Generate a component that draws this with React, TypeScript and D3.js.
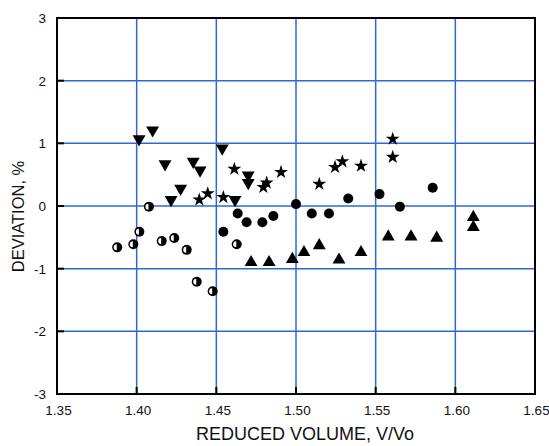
import React from "react";
import * as d3 from "d3";

const xTicks = [1.35, 1.40, 1.45, 1.50, 1.55, 1.60, 1.65];
const yTicks = [-3, -2, -1, 0, 1, 2, 3];

const invTriX = [1.4015, 1.410, 1.4178, 1.4355, 1.4398, 1.4276, 1.4216, 1.4537, 1.4617, 1.470, 1.470];
const invTriY = [1.07, 1.21, 0.67, 0.71, 0.57, 0.28, 0.10, 0.92, 0.10, 0.49, 0.37];

const starX = [1.4393, 1.4446, 1.4544, 1.4613, 1.4816, 1.4795, 1.4906, 1.5146, 1.5245, 1.5291, 1.5408, 1.5607, 1.5607];
const starY = [0.10, 0.20, 0.14, 0.59, 0.37, 0.30, 0.54, 0.35, 0.62, 0.71, 0.64, 1.07, 0.78];

const dotX = [1.4634, 1.4544, 1.469, 1.4789, 1.4858, 1.50, 1.5099, 1.5207, 1.5328, 1.5524, 1.5652, 1.5858];
const dotY = [-0.12, -0.41, -0.26, -0.26, -0.16, 0.03, -0.12, -0.12, 0.12, 0.19, -0.01, 0.29];

const halfX = [1.4077, 1.4017, 1.3979, 1.3878, 1.4157, 1.4236, 1.4314, 1.4377, 1.4477, 1.4628];
const halfY = [-0.01, -0.41, -0.61, -0.66, -0.56, -0.51, -0.70, -1.21, -1.36, -0.61];

const triX = [1.4718, 1.4831, 1.4977, 1.505, 1.5146, 1.527, 1.5408, 1.5579, 1.5722, 1.5883, 1.6113, 1.6113];
const triY = [-0.90, -0.90, -0.85, -0.74, -0.63, -0.86, -0.74, -0.49, -0.49, -0.51, -0.18, -0.34];

const W = 549, H = 446;
const L = 57, R = 535, T = 18, B = 394;

export default function App() {
  const x = d3.scaleLinear().domain([1.35, 1.65]).range([L, R]);
  const y = d3.scaleLinear().domain([-3, 3]).range([B, T]);
  const font = "Arial, 'Liberation Sans', sans-serif";
  const grid = "#2f68cf";

  const triPath = d3.symbol().type(d3.symbolTriangle).size(72)() as string;
  const starPath = d3.symbol().type(d3.symbolStar).size(60)() as string;

  return (
    <svg width={W} height={H} style={{ position: "absolute", left: 0, top: 0 }}>
      <rect width={W} height={H} fill="#fff" />
      {xTicks.slice(1, -1).map((t) => (
        <line key={"gx" + t} x1={x(t)} x2={x(t)} y1={T} y2={B} stroke={grid} strokeWidth={1.5} />
      ))}
      {yTicks.slice(1, -1).map((t) => (
        <line key={"gy" + t} x1={L} x2={R} y1={y(t)} y2={y(t)} stroke={grid} strokeWidth={1.5} />
      ))}
      {xTicks.slice(1, -1).map((t) => (
        <line key={"tx" + t} x1={x(t)} x2={x(t)} y1={B} y2={B - 7} stroke="#000" strokeWidth={2} />
      ))}
      {yTicks.slice(1, -1).map((t) => (
        <line key={"ty" + t} x1={L} x2={L + 7} y1={y(t)} y2={y(t)} stroke="#000" strokeWidth={2} />
      ))}
      <rect x={L} y={T} width={R - L} height={B - T} fill="none" stroke="#000" strokeWidth={2} />

      {xTicks.map((t) => (
        <text key={"lx" + t} x={x(t) + 1.5} y={415} textAnchor="middle" fontFamily={font} fontSize={13.5} fill="#111">
          {t.toFixed(2)}
        </text>
      ))}
      {yTicks.map((t) => (
        <text key={"ly" + t} x={L - 11} y={y(t) + 5} textAnchor="end" fontFamily={font} fontSize={13.5} fill="#111">
          {t}
        </text>
      ))}
      <text x={305} y={440} textAnchor="middle" fontFamily={font} fontSize={18} fill="#111">
        REDUCED VOLUME, V/Vo
      </text>
      <text transform={`translate(24,216.5) rotate(-90)`} textAnchor="middle" fontFamily={font} fontSize={16.5} fill="#111">
        DEVIATION, %
      </text>

      {invTriX.map((v, i) => (
        <path key={"it" + i} d={triPath} transform={`translate(${x(v)},${y(invTriY[i])}) rotate(180)`} fill="#000" />
      ))}
      {triX.map((v, i) => (
        <path key={"t" + i} d={triPath} transform={`translate(${x(v)},${y(triY[i])})`} fill="#000" />
      ))}
      {starX.map((v, i) => (
        <path key={"s" + i} d={starPath} transform={`translate(${x(v)},${y(starY[i])})`} fill="#000" />
      ))}
      {dotX.map((v, i) => (
        <circle key={"d" + i} cx={x(v)} cy={y(dotY[i])} r={5} fill="#000" />
      ))}
      {halfX.map((v, i) => {
        const cx = x(v), cy = y(halfY[i]);
        return (
          <g key={"h" + i}>
            <circle cx={cx} cy={cy} r={5} fill="#000" />
            <path d={`M${cx},${cy - 3} A3,3 0 0 0 ${cx},${cy + 3} Z`} fill="#fff" transform={`translate(-0.5,0)`} />
          </g>
        );
      })}
    </svg>
  );
}
